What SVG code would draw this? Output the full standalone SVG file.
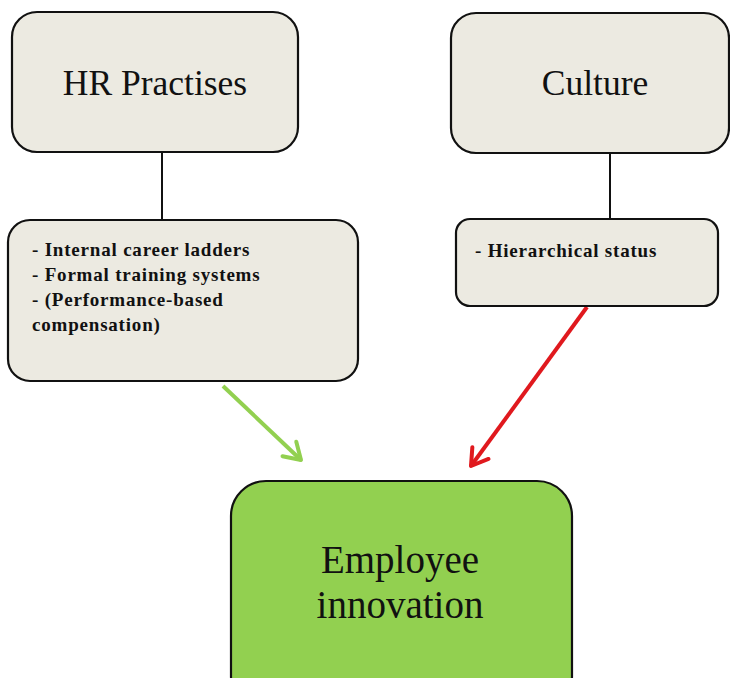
<svg xmlns="http://www.w3.org/2000/svg" width="730" height="678" viewBox="0 0 730 678">
<style>
.box{fill:#ECEAE1;stroke:#111;stroke-width:2.2}
.main{fill:#92D050;stroke:#111;stroke-width:2.2}
.title{font-family:"Liberation Serif",serif;font-size:35.5px;fill:#111;text-anchor:middle}
.big{font-family:"Liberation Serif",serif;font-size:39px;fill:#111;text-anchor:middle}
.item{font-family:"Liberation Serif",serif;font-size:19px;letter-spacing:0.8px;font-weight:bold;fill:#111}
.link{stroke:#111;stroke-width:2;fill:none}
</style>
<defs>
<marker id="ag" markerUnits="userSpaceOnUse" markerWidth="30" markerHeight="30" refX="0" refY="0" viewBox="-20 -15 25 30" orient="auto">
<path d="M-16,-10 L0,0 L-16,10" fill="none" stroke="#92D050" stroke-width="4" stroke-linecap="round" stroke-linejoin="round"/>
</marker>
<marker id="ar" markerUnits="userSpaceOnUse" markerWidth="30" markerHeight="30" refX="0" refY="0" viewBox="-20 -15 25 30" orient="auto">
<path d="M-16,-10 L0,0 L-16,10" fill="none" stroke="#E0191E" stroke-width="4" stroke-linecap="round" stroke-linejoin="round"/>
</marker>
</defs>
<rect width="730" height="678" fill="#fff"/>
<g id="connectors">
<line class="link" x1="162" y1="152" x2="162" y2="220"/>
<line class="link" x1="610" y1="153" x2="610" y2="219"/>
<line x1="223" y1="386" x2="301" y2="460" stroke="#92D050" stroke-width="4" marker-end="url(#ag)"/>
<line x1="587" y1="307" x2="471" y2="466" stroke="#E0191E" stroke-width="4" marker-end="url(#ar)"/>
</g>
<g id="hr">
<rect class="box" x="12" y="12" width="286" height="140" rx="25"/>
<text class="title" x="155" y="95">HR Practises</text>
</g>
<g id="culture">
<rect class="box" x="451" y="13" width="278" height="140" rx="25"/>
<text class="title" x="595" y="95">Culture</text>
</g>
<g id="hr-items">
<rect class="box" x="8" y="220" width="350" height="161" rx="22"/>
<text class="item" x="32" y="256">- Internal career ladders</text>
<text class="item" x="32" y="281">- Formal training systems</text>
<text class="item" x="32" y="306">- (Performance-based</text>
<text class="item" x="32" y="331">compensation)</text>
</g>
<g id="culture-items">
<rect class="box" x="456" y="219" width="262" height="87" rx="14"/>
<text class="item" x="475" y="257">- Hierarchical status</text>
</g>
<g id="innovation">
<rect class="main" x="231" y="481" width="341" height="230" rx="35"/>
<text class="big" x="400" y="573">Employee</text>
<text class="big" x="400" y="618">innovation</text>
</g>
</svg>
